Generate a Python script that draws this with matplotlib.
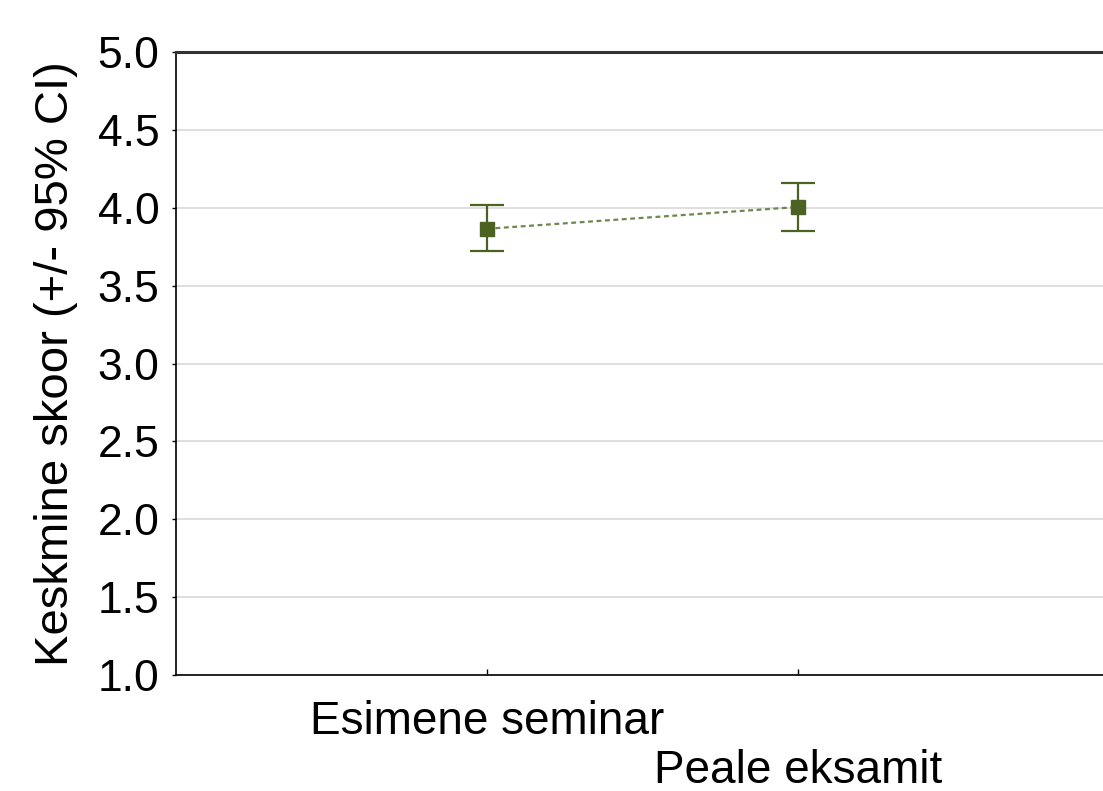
import matplotlib.pyplot as plt

# data
groups = ['Esimene seminar', 'Peale eksamit']
means = [3.865, 4.005]
ci_low = [3.722, 3.851]
ci_high = [4.018, 4.159]
yticks = [1.0, 1.5, 2.0, 2.5, 3.0, 3.5, 4.0, 4.5, 5.0]

plt.rcParams['font.family'] = ['Liberation Sans', 'DejaVu Sans']

fig = plt.figure(figsize=(11.03, 7.91), dpi=100)
ax = fig.add_axes([176 / 1103, 1 - 675 / 791, (1109 - 176) / 1103, (675 - 52) / 791])

col = '#4b6223'
xx = [1, 2]
err = [[m - lo for m, lo in zip(means, ci_low)], [hi - m for m, hi in zip(means, ci_high)]]

ax.plot(xx, means, linestyle=(0, (2.2, 1.6)), color='#6f8650', linewidth=1.6, zorder=3)
ax.errorbar(xx, means, yerr=err, fmt='none', ecolor=col, elinewidth=1.6,
            capsize=12, capthick=1.6, zorder=4)
ax.plot(xx, means, 's', color=col, markersize=10.5, zorder=5)

ax.set_xlim(0, 3)
ax.set_ylim(1.0, 5.0)
ax.set_yticks(yticks)
ax.set_yticklabels(['%.1f' % v for v in yticks])
ax.set_xticks(xx)
ax.set_xticklabels([groups[0], '\n' + groups[1]], linespacing=1.15)
ax.set_ylabel('Keskmine skoor (+/- 95% CI)', fontsize=34, labelpad=14)

ax.yaxis.grid(True, color='#d9d9d9', linewidth=1.2)
ax.set_axisbelow(True)
ax.spines['right'].set_visible(False)
ax.spines['top'].set_linewidth(2.2)
ax.spines['top'].set_color('#333333')
ax.spines['left'].set_linewidth(1.2)
ax.spines['bottom'].set_linewidth(1.2)

ax.tick_params(axis='y', direction='out', length=3, width=1, labelsize=32, pad=9)
ax.tick_params(axis='x', direction='in', length=4, width=1, labelsize=33, pad=18)

plt.savefig('out.png', dpi=100)
plt.close()
